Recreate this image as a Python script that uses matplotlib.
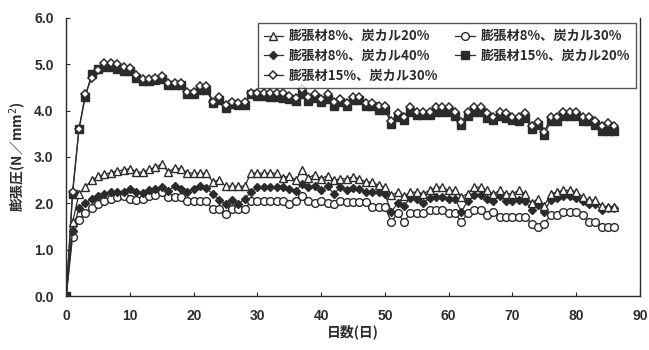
import numpy as np
import matplotlib.pyplot as plt

plt.rcParams['font.family'] = ['Noto Sans CJK JP', 'DejaVu Sans']

# 経過日数 0〜86日
days = list(range(0, 87))

# 膨張材8%、炭カル20%
exp8_cal20 = [0, 1.6, 2.2, 2.35, 2.5, 2.58, 2.63, 2.66, 2.7, 2.72,
              2.75, 2.68, 2.67, 2.73, 2.78, 2.85, 2.68, 2.76, 2.75, 2.66,
              2.65, 2.65, 2.65, 2.47, 2.5, 2.37, 2.37, 2.37, 2.37, 2.65,
              2.65, 2.65, 2.65, 2.65, 2.55, 2.6, 2.5, 2.72, 2.55, 2.62,
              2.53, 2.6, 2.5, 2.53, 2.53, 2.57, 2.53, 2.46, 2.46, 2.39,
              2.35, 2.18, 2.24, 2.15, 2.24, 2.24, 2.21, 2.28, 2.35, 2.35,
              2.28, 2.28, 2.14, 2.21, 2.35, 2.35, 2.28, 2.2, 2.28, 2.21,
              2.21, 2.28, 2.21, 2.0, 2.1, 1.95, 2.2, 2.25, 2.28, 2.28,
              2.25, 2.14, 2.07, 2.07, 1.95, 1.92, 1.92]

# 膨張材8%、炭カル30%
exp8_cal30 = [0, 1.28, 1.65, 1.8, 1.9, 1.98, 2.05, 2.1, 2.14, 2.15,
              2.1, 2.08, 2.1, 2.15, 2.18, 2.25, 2.14, 2.14, 2.14, 2.04,
              2.04, 2.04, 2.04, 1.87, 1.87, 1.76, 1.87, 1.87, 1.87, 2.05,
              2.05, 2.05, 2.05, 2.05, 2.05, 1.98, 2.05, 2.15, 2.05, 2.0,
              2.05, 2.0, 1.98, 2.05, 2.03, 2.03, 2.03, 2.03, 1.92, 1.92,
              1.92, 1.6, 1.79, 1.6, 1.79, 1.79, 1.79, 1.86, 1.86, 1.86,
              1.79, 1.79, 1.6, 1.79, 1.86, 1.86, 1.74, 1.81, 1.71, 1.71,
              1.71, 1.71, 1.71, 1.56, 1.49, 1.56, 1.74, 1.74, 1.81, 1.81,
              1.81, 1.74, 1.6, 1.6, 1.49, 1.49, 1.49]

# 膨張材8%、炭カル40%
exp8_cal40 = [0, 1.4, 1.9, 2.0, 2.1, 2.15, 2.2, 2.25, 2.25, 2.25,
              2.3, 2.25, 2.22, 2.28, 2.32, 2.36, 2.27, 2.37, 2.3, 2.25,
              2.3, 2.38, 2.33, 2.2, 2.08, 1.98, 2.08, 1.98, 2.1, 2.25,
              2.35, 2.35, 2.35, 2.35, 2.35, 2.3, 2.26, 2.42, 2.35, 2.38,
              2.28, 2.37, 2.2, 2.35, 2.28, 2.33, 2.3, 2.25, 2.25, 2.24,
              2.2, 1.82, 2.0, 1.95, 2.12, 2.1, 2.0, 2.12, 2.13, 2.13,
              2.1, 2.1, 1.82, 2.06, 2.19, 2.19, 2.1, 2.06, 2.15, 2.06,
              2.06, 2.08, 2.06, 1.85, 1.97, 1.82, 2.08, 2.12, 2.15, 2.15,
              2.12, 2.06, 1.99, 1.99, 1.85, 1.89, 1.89]

# 膨張材15%、炭カル20%
exp15_cal20 = [0, 2.2, 3.6, 4.3, 4.8, 4.9, 4.95, 4.95, 4.9, 4.85,
               4.85, 4.7, 4.63, 4.63, 4.65, 4.68, 4.55, 4.55, 4.55, 4.36,
               4.36, 4.45, 4.45, 4.17, 4.22, 4.06, 4.15, 4.12, 4.12, 4.35,
               4.32, 4.32, 4.3, 4.3, 4.28, 4.25, 4.2, 4.35, 4.2, 4.28,
               4.18, 4.26, 4.1, 4.18, 4.1, 4.22, 4.22, 4.1, 4.1, 4.02,
               4.02, 3.72, 3.87, 3.8, 3.98, 3.9, 3.9, 3.9, 3.98, 3.98,
               3.98, 3.88, 3.68, 3.88, 3.98, 3.98, 3.85, 3.8, 3.88, 3.85,
               3.8, 3.78, 3.85, 3.6, 3.68, 3.47, 3.78, 3.78, 3.88, 3.88,
               3.88, 3.78, 3.78, 3.68, 3.57, 3.55, 3.55]

# 膨張材15%、炭カル30%
exp15_cal30 = [0, 2.25, 3.6, 4.35, 4.7, 4.88, 5.03, 5.03, 5.0, 4.93,
               4.92, 4.77, 4.68, 4.68, 4.7, 4.74, 4.6, 4.6, 4.6, 4.41,
               4.41, 4.52, 4.54, 4.19, 4.3, 4.11, 4.18, 4.17, 4.18, 4.37,
               4.37, 4.37, 4.37, 4.37, 4.37, 4.32, 4.27, 4.47, 4.3, 4.36,
               4.25, 4.36, 4.18, 4.25, 4.16, 4.29, 4.29, 4.16, 4.16, 4.09,
               4.09, 3.77, 3.94, 3.87, 4.07, 3.96, 3.96, 3.96, 4.07, 4.07,
               4.07, 3.96, 3.75, 3.96, 4.07, 4.07, 3.94, 3.87, 3.96, 3.94,
               3.87, 3.86, 3.94, 3.66, 3.75, 3.53, 3.86, 3.86, 3.96, 3.96,
               3.96, 3.86, 3.86, 3.77, 3.66, 3.73, 3.66]

labels = ['膨張材8%、炭カル20%', '膨張材8%、炭カル30%', '膨張材8%、炭カル40%',
          '膨張材15%、炭カル20%', '膨張材15%、炭カル30%']

ink = '#2b2b2b'

fig = plt.figure(figsize=(6.49, 3.5), dpi=100)
ax = fig.add_axes([0.102, 0.154, 0.884, 0.795])

line_kw = dict(color=ink, lw=0.9)
h_sq, = ax.plot(days, exp15_cal20, marker='s', ms=5.2, mfc=ink, mec=ink, label=labels[3], **line_kw)
h_od, = ax.plot(days, exp15_cal30, marker='D', ms=4.2, mfc='white', mec=ink, mew=1.1, label=labels[4], **line_kw)
h_ci, = ax.plot(days, exp8_cal30, marker='o', ms=5.6, mfc='white', mec=ink, mew=1.0, label=labels[1], **line_kw)
h_fd, = ax.plot(days, exp8_cal40, marker='D', ms=4.2, mfc=ink, mec=ink, label=labels[2], **line_kw)
h_tr, = ax.plot(days, exp8_cal20, marker='^', ms=5.8, mfc='white', mec=ink, mew=1.0, label=labels[0], **line_kw)

ax.set_xlim(0, 90)
ax.set_ylim(0, 6.0)
ax.set_xticks(np.arange(0, 91, 10))
ax.set_yticks(np.arange(0, 6.1, 1.0))
ax.set_yticklabels([f'{v:.1f}' for v in np.arange(0, 6.1, 1.0)])
ax.tick_params(direction='in', length=3, labelsize=10, colors=ink, pad=9)
for lab in ax.get_xticklabels() + ax.get_yticklabels():
    lab.set_family(['Liberation Sans Narrow', 'Liberation Sans', 'DejaVu Sans'])
    lab.set_fontweight('bold')
ax.spines['top'].set_visible(False)
for s in ('left', 'bottom', 'right'):
    ax.spines[s].set_color(ink)
    ax.spines[s].set_linewidth(1.0)

ax.set_xlabel('日数(日)', fontsize=10, fontweight='bold', color=ink, labelpad=1)
ax.set_ylabel('膨張圧(N／mm$^2$)', fontsize=10, fontweight='bold', color=ink, labelpad=4)

leg = ax.legend(handles=[h_tr, h_fd, h_od, h_ci, h_sq], ncol=2, loc='upper right',
                bbox_to_anchor=(0.997, 0.99), fontsize=9.5, frameon=True, fancybox=False,
                edgecolor=ink, handlelength=1.5, handletextpad=0.4, columnspacing=1.3,
                labelspacing=0.42, borderpad=0.45, borderaxespad=0.2)
leg.get_frame().set_linewidth(1.0)
for t in leg.get_texts():
    t.set_fontweight('bold')
    t.set_color(ink)

fig.savefig('out.png', dpi=100)
